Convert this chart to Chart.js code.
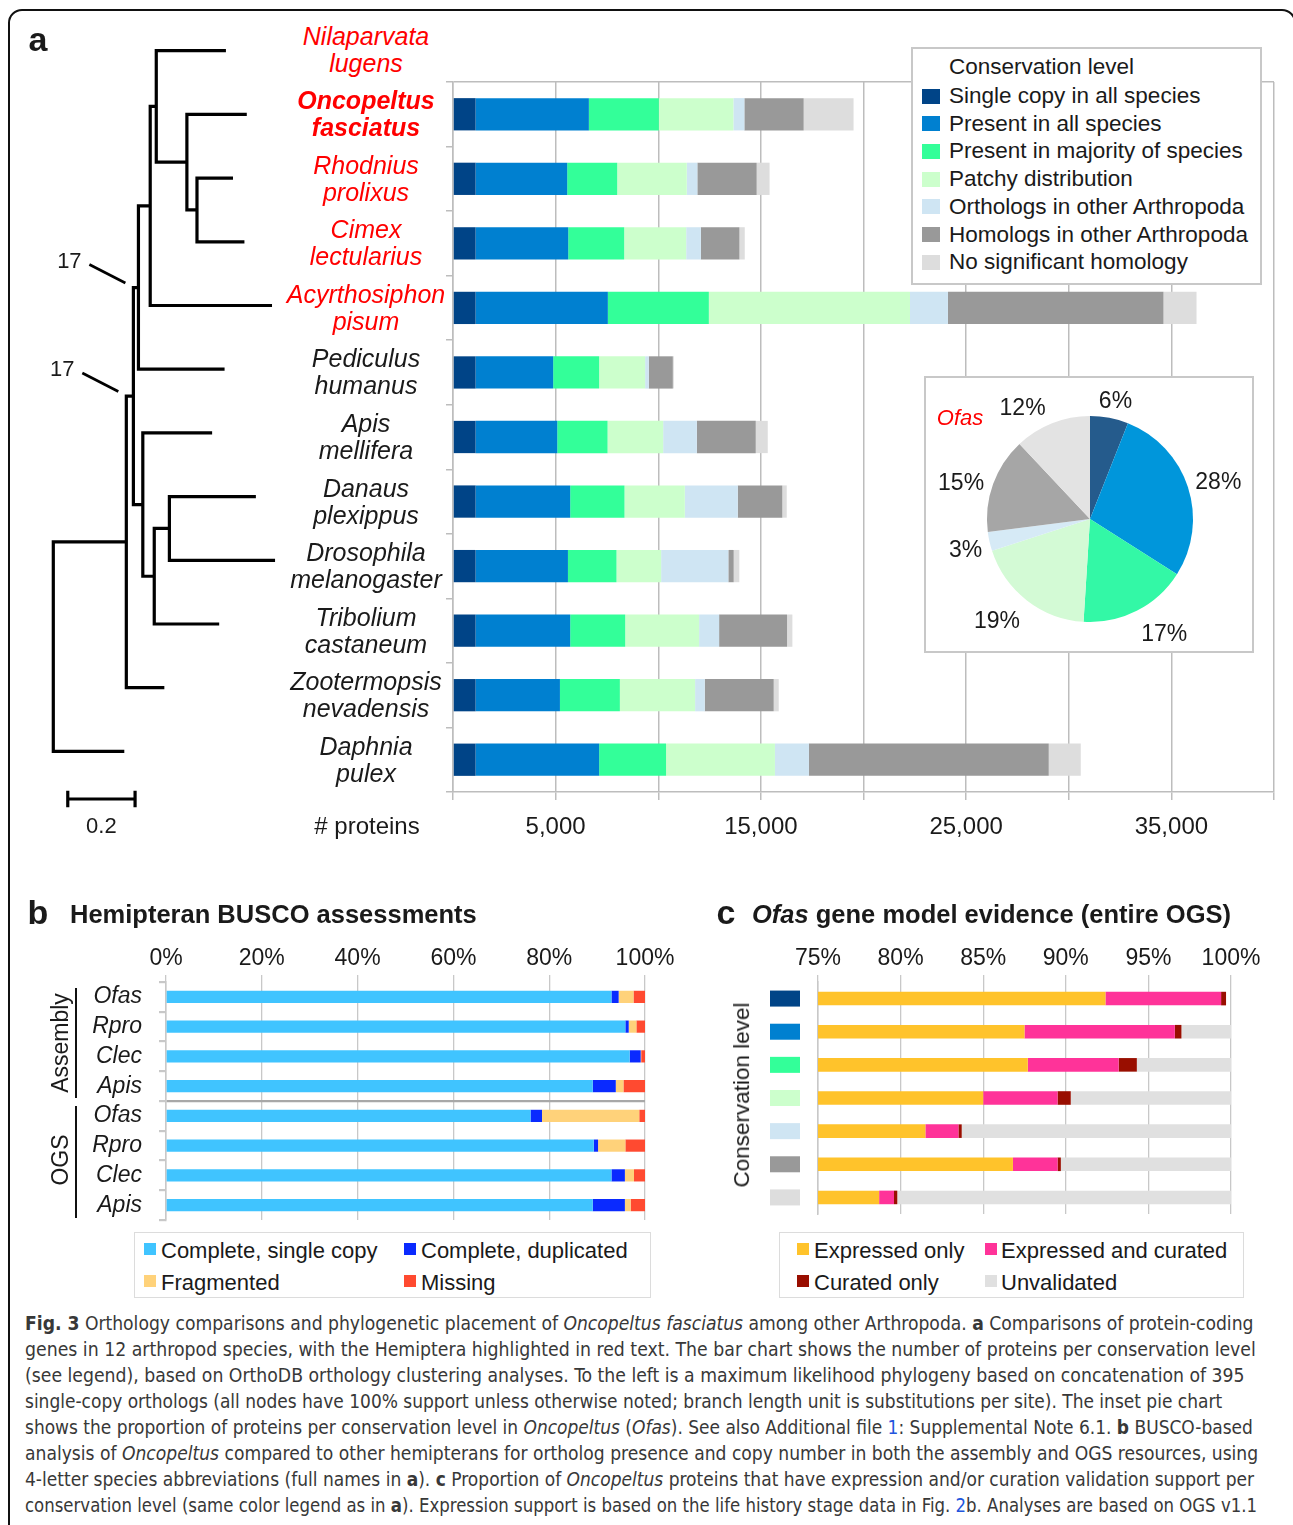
<!DOCTYPE html>
<html>
<head>
<meta charset="utf-8">
<script src="https://cdn.jsdelivr.net/npm/chart.js"></script>
<style>
body { margin: 0; background: #fff; }
#page { position: relative; width: 1293px; height: 1525px; overflow: hidden; font-family: "Liberation Sans", Arial, sans-serif; color: #1a1a1a; }
canvas { position: absolute; }
.lbl { position: absolute; white-space: nowrap; line-height: 1.15; }
.frame { position: absolute; left: 8px; top: 9px; width: 1288px; height: 1600px; box-sizing: border-box; border: 2px solid #111; border-radius: 14px; }
.box { position: absolute; box-sizing: border-box; background: #fff; }
.sw { position: absolute; }
.brk { position: absolute; border-left: 2.5px solid #111; }
</style>
</head>
<body>
<div id="page">
  <div class="frame"></div>
  <canvas id="tree" width="300" height="850" style="left:0;top:0"></canvas>
  <canvas id="barA" width="850" height="790" style="left:440px;top:70px"></canvas>
  <div class="box" id="legA" style="left:911px;top:47px;width:351px;height:238px;border:2px solid #c8c8c8"></div>
  <div class="box" style="left:924px;top:376px;width:330px;height:277px;border:2px solid #c8c8c8"></div>
  <canvas id="pie" width="328" height="275" style="left:925px;top:377px"></canvas>
  <canvas id="barB" width="660" height="300" style="left:20px;top:930px"></canvas>
  <canvas id="barC" width="570" height="300" style="left:700px;top:930px"></canvas>
  <div class="box" id="legB" style="left:134px;top:1232px;width:517px;height:66px;border:1.5px solid #dcdcdc"></div>
  <div class="box" id="legC" style="left:779px;top:1232px;width:465px;height:66px;border:1.5px solid #dcdcdc"></div>
  <div class="brk" style="left:75px;top:988px;height:110px"></div>
  <div class="brk" style="left:75px;top:1106px;height:112px"></div>
</div>
<script>
// ---- panel a: species and protein counts per conservation level ----
var species = [
  ['Nilaparvata', 'lugens'], ['Oncopeltus', 'fasciatus'], ['Rhodnius', 'prolixus'],
  ['Cimex', 'lectularius'], ['Acyrthosiphon', 'pisum'], ['Pediculus', 'humanus'],
  ['Apis', 'mellifera'], ['Danaus', 'plexippus'], ['Drosophila', 'melanogaster'],
  ['Tribolium', 'castaneum'], ['Zootermopsis', 'nevadensis'], ['Daphnia', 'pulex']
];
var hemiptera = [true, true, true, true, true, false, false, false, false, false, false, false];
var barSpecies = species.slice(1);   // Nilaparvata has no bar

var consLevels = ['Single copy in all species', 'Present in all species', 'Present in majority of species',
  'Patchy distribution', 'Orthologs in other Arthropoda', 'Homologs in other Arthropoda', 'No significant homology'];
var barColors = ['#004487', '#0080d0', '#33ff99', '#ccffcc', '#cfe5f3', '#999999', '#dddddd'];
var pieColors = ['#255b8c', '#0096db', '#33f8a6', '#d3fad5', '#d6eaf6', '#a6a6a6', '#e3e3e3'];

var singleCopyAll   = [1100, 1100, 1100, 1100, 1100, 1100, 1100, 1100, 1100, 1100, 1100];
var presentAll      = [5520, 4465, 4515, 6445, 3780, 3980, 4610, 4500, 4610, 4110, 6020];
var presentMajority = [3410, 2435, 2725, 4920, 2240, 2450, 2645, 2365, 2680, 2920, 3260];
var patchy          = [3630, 3390, 3020, 9800, 2240, 2710, 2940, 2175, 3600, 3665, 5305];
var orthoArthro     = [535, 515, 715, 1850, 180, 1640, 2580, 3275, 975, 470, 1655];
var homoArthro      = [2890, 2890, 1880, 10500, 1170, 2870, 2170, 260, 3310, 3360, 11685];
var noHomology      = [2430, 630, 260, 1610, 50, 585, 215, 275, 260, 245, 1560];

var pieShares = [6, 28, 17, 19, 3, 15, 12];   // Ofas, % per conservation level

// phylogeny: [node, parent, branch length (subst./site)], children top to bottom
var treeEdges = [
  ['J', 'root', 0.217], ['Daphnia', 'root', 0.211],
  ['F', 'J', 0.021], ['Zootermopsis', 'J', 0.113],
  ['E', 'F', 0.015], ['G', 'F', 0.028],
  ['B', 'E', 0.035], ['Pediculus', 'E', 0.256],
  ['A', 'B', 0.018], ['Acyrthosiphon', 'B', 0.362],
  ['Nilaparvata', 'A', 0.207], ['C', 'A', 0.091],
  ['Oncopeltus', 'C', 0.178], ['D', 'C', 0.030],
  ['Rhodnius', 'D', 0.107], ['Cimex', 'D', 0.141],
  ['Apis', 'G', 0.206], ['H', 'G', 0.034],
  ['I', 'H', 0.045], ['Tribolium', 'H', 0.193],
  ['Danaus', 'I', 0.257], ['Drosophila', 'I', 0.314]
];
var supportNodes = [['E', 17], ['F', 17]];
var scaleBarLength = 0.2;

// ---- panel b: BUSCO ----
var buscoLabels = ['Ofas', 'Rpro', 'Clec', 'Apis', 'Ofas', 'Rpro', 'Clec', 'Apis'];
var buscoNames = ['Complete, single copy', 'Complete, duplicated', 'Fragmented', 'Missing'];
var buscoColors = ['#40c4ff', '#0a2aff', '#ffd27a', '#ff4a30'];
var buscoSingle     = [93.0, 95.9, 96.8, 89.1, 76.1, 89.3, 93.0, 89.1];
var buscoDuplicated = [1.5, 0.7, 2.3, 4.8, 2.4, 0.9, 2.8, 6.7];
var buscoFragmented = [3.1, 1.6, 0.1, 1.6, 20.3, 5.7, 1.9, 1.2];
var buscoMissing    = [2.4, 1.8, 0.8, 4.5, 1.2, 4.1, 2.3, 3.0];

// ---- panel c: gene model evidence ----
var evidenceNames = ['Expressed only', 'Expressed and curated', 'Curated only', 'Unvalidated'];
var evidenceColors = ['#ffc32b', '#ff3399', '#990e00', '#e0e0e0'];
var expressedOnly    = [92.4, 87.5, 87.7, 85.0, 81.5, 86.8, 78.7];
var expressedCurated = [7.0, 9.1, 5.5, 4.5, 2.0, 2.7, 0.9];
var curatedOnly      = [0.3, 0.4, 1.1, 0.8, 0.2, 0.2, 0.2];
var unvalidated      = [0.0, 3.0, 5.7, 9.7, 16.3, 10.3, 20.2];

var FONT = '"Liberation Sans", Arial, sans-serif';
Chart.defaults.font.family = FONT;
Chart.defaults.color = '#1a1a1a';
Chart.defaults.animation = false;
Chart.defaults.plugins.legend.display = false;
Chart.defaults.plugins.tooltip.enabled = false;

var page = document.getElementById('page');
function label(x, y, html, css, align, parent) {
  var d = document.createElement('div');
  d.className = 'lbl';
  d.innerHTML = html;
  Object.assign(d.style, css || {});
  d.style.left = x + 'px';
  d.style.top = y + 'px';
  d.style.transform = align === 'l' ? 'translate(0,-50%)' : align === 'r' ? 'translate(-100%,-50%)' : 'translate(-50%,-50%)';
  (parent || page).appendChild(d);
  return d;
}
function swatch(x, y, w, h, color) {
  var s = document.createElement('div');
  s.className = 'sw';
  s.style.cssText = 'left:' + x + 'px;top:' + (y - h / 2) + 'px;width:' + w + 'px;height:' + h + 'px;background:' + color;
  page.appendChild(s);
}

// ---------- tree ----------
var nodes = { root: { x: 0, children: [] } };
treeEdges.forEach(function (e) {
  nodes[e[0]] = nodes[e[0]] || { children: [] };
  nodes[e[0]].parent = e[1];
  nodes[e[0]].len = e[2];
  nodes[e[1]] = nodes[e[1]] || { children: [] };
  nodes[e[1]].children.push(e[0]);
});
function layout(name, x) {
  var n = nodes[name];
  n.x = x;
  if (!n.children.length) {
    n.y = species.findIndex(function (s) { return s[0] === name; });
    return n.y;
  }
  var ys = n.children.map(function (c) { return layout(c, x + nodes[c].len); });
  n.y = (ys[0] + ys[ys.length - 1]) / 2;
  return n.y;
}
layout('root', 0);

var treeSets = [];
Object.keys(nodes).forEach(function (k) {
  var n = nodes[k];
  if (n.children.length < 2) return;
  var c1 = nodes[n.children[0]], c2 = nodes[n.children[n.children.length - 1]];
  treeSets.push({ data: [{ x: c1.x, y: c1.y }, { x: n.x, y: c1.y }, { x: n.x, y: c2.y }, { x: c2.x, y: c2.y }] });
});
var sbY = 11.747, sbX = 0.043;
treeSets.push({ data: [{ x: sbX, y: sbY }, { x: sbX + scaleBarLength, y: sbY }] });
treeSets.push({ data: [{ x: sbX, y: sbY - 0.13 }, { x: sbX, y: sbY + 0.13 }] });
treeSets.push({ data: [{ x: sbX + scaleBarLength, y: sbY - 0.13 }, { x: sbX + scaleBarLength, y: sbY + 0.13 }] });
treeSets.forEach(function (d) {
  d.showLine = true; d.borderColor = '#000'; d.borderWidth = 3.2; d.pointRadius = 0;
  d.borderJoinStyle = 'miter'; d.borderCapStyle = 'butt'; d.clip = false;
});

var supportPlugin = {
  id: 'support',
  afterDatasetsDraw: function (chart) {
    var ctx = chart.ctx, sx = chart.scales.x, sy = chart.scales.y;
    ctx.save();
    ctx.strokeStyle = '#000';
    ctx.lineWidth = 2.6;
    supportNodes.forEach(function (s) {
      var n = nodes[s[0]], p = nodes[n.parent];
      var ex = sx.getPixelForValue(p.x) - 8, ey = sy.getPixelForValue(n.y) - 4.6;
      ctx.beginPath();
      ctx.moveTo(ex - 36, ey - 18.5);
      ctx.lineTo(ex, ey);
      ctx.stroke();
    });
    ctx.restore();
  }
};

var tree = new Chart(document.getElementById('tree'), {
  type: 'scatter',
  data: { datasets: treeSets },
  options: {
    responsive: false,
    layout: { padding: 0 },
    scales: {
      x: { display: false, min: -53.3 / 336.5, max: (300 - 53.3) / 336.5 },
      y: { display: false, reverse: true, min: -50.7 / 63.7, max: (850 - 50.7) / 63.7 }
    }
  },
  plugins: [supportPlugin]
});
supportNodes.forEach(function (s) {
  var n = nodes[s[0]], p = nodes[n.parent];
  var ex = tree.scales.x.getPixelForValue(p.x) - 8, ey = tree.scales.y.getPixelForValue(n.y) - 4.6;
  label(ex - 56, ey - 22, String(s[1]), { fontSize: '22px' });
});
label(tree.scales.x.getPixelForValue(sbX + scaleBarLength / 2), tree.scales.y.getPixelForValue(sbY) + 27, '0.2', { fontSize: '22px' });

// ---------- panel a bars ----------
var consSeries = [singleCopyAll, presentAll, presentMajority, patchy, orthoArthro, homoArthro, noHomology];
var GRID = '#bdbdbd';
var barA = new Chart(document.getElementById('barA'), {
  type: 'bar',
  data: {
    labels: barSpecies.map(function (s) { return s.join(' '); }),
    datasets: consSeries.map(function (d, i) {
      return { label: consLevels[i], data: d, backgroundColor: barColors[i], borderWidth: 0, barPercentage: 1, categoryPercentage: 0.5 };
    })
  },
  options: {
    indexAxis: 'y',
    responsive: false,
    layout: { padding: { top: 12, right: 16, left: 0, bottom: 0 } },
    scales: {
      x: {
        stacked: true, min: 0, max: 40000,
        ticks: { stepSize: 5000, autoSkip: false, maxRotation: 0, padding: 13, font: { size: 24 }, color: '#1a1a1a',
          callback: function (v) { return v % 10000 === 5000 ? v.toLocaleString('en-US') : ''; } },
        grid: { color: GRID, lineWidth: 1.5, tickLength: 8, tickColor: GRID },
        border: { color: GRID, width: 1.5 },
        afterFit: function (s) { s.height = 68; }
      },
      y: {
        stacked: true,
        ticks: { display: false },
        grid: { offset: true, color: function (c) { return c.index === 0 ? GRID : 'rgba(0,0,0,0)'; }, lineWidth: 1.5, tickLength: 7, tickColor: GRID },
        border: { color: GRID, width: 1.5 },
        afterFit: function (s) { s.width = 12; }
      }
    }
  }
});

// species names, aligned on the bar rows
var ys = barA.scales.y;
var rowGap = ys.getPixelForValue(1) - ys.getPixelForValue(0);
species.forEach(function (s, i) {
  var cy = 70 + ys.getPixelForValue(0) + (i - 1) * rowGap;
  var css = { fontSize: '25px', fontStyle: 'italic', textAlign: 'center', lineHeight: '27px', color: hemiptera[i] ? '#ff0000' : '#1a1a1a' };
  if (i === 1) css.fontWeight = 'bold';
  label(366, cy, s[0] + '<br>' + s[1], css);
});
label(367, 826, '# proteins', { fontSize: '24px' });
label(38, 40, 'a', { fontSize: '34px', fontWeight: 'bold' });

// legend a
label(949, 67, 'Conservation level', { fontSize: '22.5px' }, 'l');
consLevels.forEach(function (n, i) {
  var cy = 96 + i * 27.7;
  swatch(922, cy, 18, 15, barColors[i]);
  label(949, cy, n, { fontSize: '22.5px' }, 'l');
});

// ---------- pie ----------
// labels sit just outside each slice; the box of the text is pushed outward along the slice's mid angle
var pieNudge = [[1, 4], [-2, 2], [12, 5], [-9, 5], [3, 5], [0, 7], [-17, 5]];
var pieLabels = {
  id: 'pieLabels',
  afterDatasetsDraw: function (chart) {
    var ctx = chart.ctx;
    ctx.save();
    ctx.font = '23px ' + FONT;
    ctx.fillStyle = '#1a1a1a';
    ctx.textAlign = 'center';
    ctx.textBaseline = 'middle';
    chart.getDatasetMeta(0).data.forEach(function (arc, i) {
      var a = (arc.startAngle + arc.endAngle) / 2, r = arc.outerRadius + 9;
      var txt = pieShares[i] + '%';
      var w = ctx.measureText(txt).width;
      var x = arc.x + Math.cos(a) * r + Math.cos(a) * (w / 2 + 2) + pieNudge[i][0];
      var y = arc.y + Math.sin(a) * r + Math.sin(a) * 12 + pieNudge[i][1];
      ctx.fillText(txt, x, y);
    });
    ctx.restore();
  }
};
new Chart(document.getElementById('pie'), {
  type: 'pie',
  data: { labels: consLevels, datasets: [{ data: pieShares, backgroundColor: pieColors, borderWidth: 0 }] },
  options: { responsive: false, layout: { padding: { left: 62, right: 60, top: 39, bottom: 30 } } },
  plugins: [pieLabels]
});
label(960, 418, 'Ofas', { fontSize: '22px', fontStyle: 'italic', color: '#ff0000' });

// ---------- panel b ----------
var buscoSeries = [buscoSingle, buscoDuplicated, buscoFragmented, buscoMissing];
var GRID2 = '#c8c8c8';
new Chart(document.getElementById('barB'), {
  type: 'bar',
  data: {
    labels: buscoLabels,
    datasets: buscoSeries.map(function (d, i) {
      return { label: buscoNames[i], data: d, backgroundColor: buscoColors[i], borderWidth: 0, barPercentage: 1, categoryPercentage: 0.41 };
    })
  },
  options: {
    indexAxis: 'y',
    responsive: false,
    layout: { padding: { top: 0, right: 35, bottom: 10, left: 0 } },
    scales: {
      x: {
        position: 'top', stacked: true, min: 0, max: 100,
        ticks: { stepSize: 20, padding: 3, font: { size: 23 }, color: '#1a1a1a', callback: function (v) { return v + '%'; } },
        grid: { color: GRID2, lineWidth: 1.3, tickLength: 7, tickColor: GRID2 },
        border: { display: false },
        afterFit: function (s) { s.height = 52; }
      },
      y: {
        stacked: true,
        ticks: { autoSkip: false, font: { size: 23, style: 'italic' }, padding: 17, color: '#1a1a1a' },
        grid: { offset: true, color: function (c) { return c.index === 4 ? '#a8a8a8' : 'rgba(0,0,0,0)'; }, lineWidth: 2.2, tickLength: 7, tickColor: GRID2 },
        border: { color: GRID2, width: 1.5 },
        afterFit: function (s) { s.width = 146; s.paddingTop = 0; s.paddingBottom = 0; }
      }
    }
  }
});
label(38, 913, 'b', { fontSize: '34px', fontWeight: 'bold' });
label(70, 915, 'Hemipteran BUSCO assessments', { fontSize: '25.5px', fontWeight: 'bold' }, 'l');
var rotA = label(60, 1043, 'Assembly', { fontSize: '23px' });
rotA.style.transform = 'translate(-50%,-50%) rotate(-90deg)';
var rotO = label(60, 1160, 'OGS', { fontSize: '23px' });
rotO.style.transform = 'translate(-50%,-50%) rotate(-90deg)';
[[144, 161, 1251], [404, 421, 1251], [144, 161, 1283], [404, 421, 1283]].forEach(function (p, i) {
  swatch(p[0], p[2] - 2, 12, 12, buscoColors[i]);
  label(p[1], p[2], buscoNames[i], { fontSize: '22px' }, 'l');
});

// ---------- panel c ----------
var evidenceSeries = [expressedOnly, expressedCurated, curatedOnly, unvalidated];
var rowSwatches = {
  id: 'rowSwatches',
  afterDraw: function (chart) {
    var ctx = chart.ctx, a = chart.chartArea, y = chart.scales.y;
    barColors.forEach(function (c, i) {
      ctx.fillStyle = c;
      ctx.fillRect(a.left - 48, y.getPixelForValue(i) - 8, 30, 16);
    });
  }
};
new Chart(document.getElementById('barC'), {
  type: 'bar',
  data: {
    labels: consLevels,
    datasets: evidenceSeries.map(function (d, i) {
      return { label: evidenceNames[i], data: d, backgroundColor: evidenceColors[i], borderWidth: 0, barPercentage: 1, categoryPercentage: 0.41 };
    })
  },
  options: {
    indexAxis: 'y',
    responsive: false,
    layout: { padding: { top: 0, right: 39, bottom: 16, left: 0 } },
    scales: {
      x: {
        position: 'top', stacked: true, min: 75, max: 100,
        ticks: { stepSize: 5, padding: 3, font: { size: 23 }, color: '#1a1a1a', callback: function (v) { return v + '%'; } },
        grid: { color: GRID2, lineWidth: 1.3, tickLength: 7, tickColor: GRID2 },
        border: { display: false },
        afterFit: function (s) { s.height = 52; }
      },
      y: {
        stacked: true,
        ticks: { display: false },
        grid: { display: false },
        border: { color: GRID2, width: 1.5 },
        afterFit: function (s) { s.width = 118; }
      }
    }
  },
  plugins: [rowSwatches]
});
label(726, 913, 'c', { fontSize: '34px', fontWeight: 'bold' });
label(752, 915, '<i>Ofas</i> gene model evidence (entire OGS)', { fontSize: '25.5px', fontWeight: 'bold' }, 'l');
var rotC = label(742, 1095, 'Conservation level', { fontSize: '22.5px' });
rotC.style.transform = 'translate(-50%,-50%) rotate(-90deg)';
[[797, 814, 1251], [985, 1001, 1251], [797, 814, 1283], [985, 1001, 1283]].forEach(function (p, i) {
  swatch(p[0], p[2] - 2, 12, 12, evidenceColors[i]);
  label(p[1], p[2], evidenceNames[i], { fontSize: '22px' }, 'l');
});

// ---------- caption ----------
var captionLines = [
  '<b>Fig. 3</b> Orthology comparisons and phylogenetic placement of <i>Oncopeltus fasciatus</i> among other Arthropoda. <b>a</b> Comparisons of protein-coding',
  'genes in 12 arthropod species, with the Hemiptera highlighted in red text. The bar chart shows the number of proteins per conservation level',
  '(see legend), based on OrthoDB orthology clustering analyses. To the left is a maximum likelihood phylogeny based on concatenation of 395',
  'single-copy orthologs (all nodes have 100% support unless otherwise noted; branch length unit is substitutions per site). The inset pie chart',
  'shows the proportion of proteins per conservation level in <i>Oncopeltus</i> (<i>Ofas</i>). See also Additional file <span style="color:#2255dd">1</span>: Supplemental Note 6.1. <b>b</b> BUSCO-based',
  'analysis of <i>Oncopeltus</i> compared to other hemipterans for ortholog presence and copy number in both the assembly and OGS resources, using',
  '4-letter species abbreviations (full names in <b>a</b>). <b>c</b> Proportion of <i>Oncopeltus</i> proteins that have expression and/or curation validation support per',
  'conservation level (same color legend as in <b>a</b>). Expression support is based on the life history stage data in Fig. <span style="color:#2255dd">2</span>b. Analyses are based on OGS v1.1'
];
var captionEnds = [1253, 1256, 1245, 1222, 1253, 1258, 1254, 1257];
captionLines.forEach(function (t, i) {
  var d = label(25, 1324 + i * 26, t, { fontSize: '19px', color: '#383838', fontFamily: '"Liberation Sans Narrow", "DejaVu Sans Condensed", "Liberation Sans", sans-serif' }, 'l');
  var w = d.offsetWidth;
  d.style.transformOrigin = '0 50%';
  d.style.transform = 'translate(0,-50%) scaleX(' + ((captionEnds[i] - 25) / w) + ')';
});
</script>
</body>
</html>
